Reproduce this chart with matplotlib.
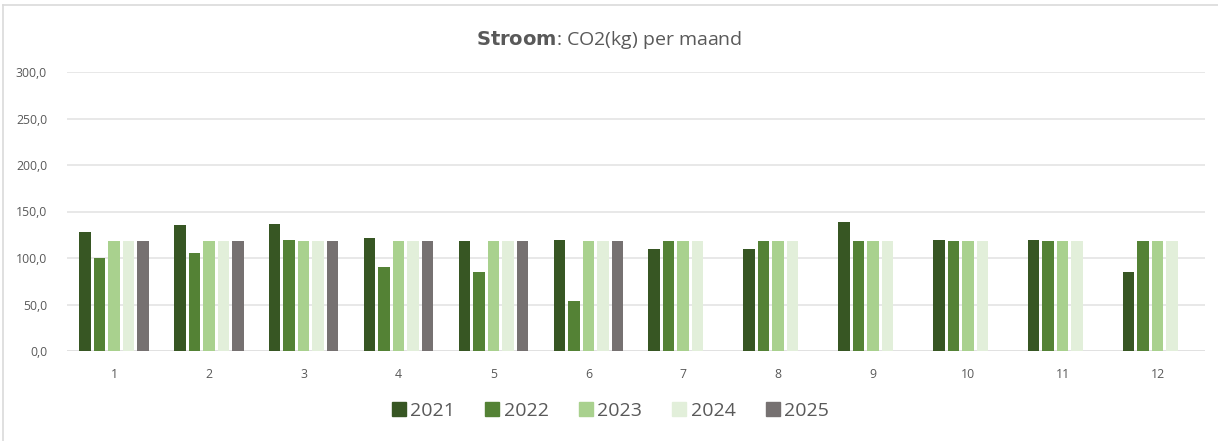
import matplotlib
matplotlib.use("Agg")
import matplotlib.pyplot as plt
import numpy as np
from matplotlib.lines import Line2D

months = [str(m) for m in range(1, 13)]
years = ["2021", "2022", "2023", "2024", "2025"]
v2021 = [128, 136, 137, 121, 118, 119, 110, 110, 139, 119, 119, 85]
v2022 = [100, 105, 119, 90, 85, 54, 118, 118, 118, 118, 118, 118]
v2023 = [118, 118, 118, 118, 118, 118, 118, 118, 118, 118, 118, 118]
v2024 = [118, 118, 118, 118, 118, 118, 118, 118, 118, 118, 118, 118]
v2025 = [118, 118, 118, 118, 118, 118, None, None, None, None, None, None]
series = [v2021, v2022, v2023, v2024, v2025]
colors = ["#375623", "#548235", "#A9D18E", "#E2EFDA", "#767171"]
yticks = [0, 50, 100, 150, 200, 250, 300]

txt = "#595959"
plt.rcParams['font.family'] = ['Open Sans', 'DejaVu Sans']

fig = plt.figure(figsize=(12.18, 4.41), dpi=100)
ax = fig.add_axes([66.5/1218, 1-351/441, (1205-66.5)/1218, (351-72)/441])

x = np.arange(len(months))
pitch = 0.153
width = 0.121
for i, (vals, c) in enumerate(zip(series, colors)):
    xs = [xi + (i - 2) * pitch for xi, v in zip(x, vals) if v is not None]
    hs = [v for v in vals if v is not None]
    ax.bar(xs, hs, width=width, color=c, zorder=3, linewidth=0)

ax.set_xlim(-0.5, len(months) - 0.5)
ax.set_ylim(0, 300)
ax.set_yticks(yticks)
ax.set_yticklabels([f"{t:.1f}".replace(".", ",") for t in yticks], fontsize=8.8, color=txt)
ax.set_xticks(x)
ax.set_xticklabels(months, fontsize=8.8, color=txt)
ax.tick_params(axis='both', length=0)
ax.tick_params(axis='y', pad=14)
ax.tick_params(axis='x', pad=12)
ax.grid(axis='y', color="#E4E4E4", linewidth=1.2, zorder=0)
for s in ax.spines.values():
    s.set_visible(False)
ax.axhline(0, color="#E0E0E0", linewidth=1.2, zorder=2)

fig.text(0.5, 1-40/441, r"$\bf{Stroom}$" + ": CO2(kg) per maand", ha='center', va='center',
         fontsize=14, color=txt)

handles = [Line2D([0], [0], marker='s', linestyle='none', markersize=10,
                  markerfacecolor=c, markeredgecolor=c) for c in colors]
fig.legend(handles, years, loc='center', bbox_to_anchor=(0.5, 1-411/441), ncol=5,
           frameon=False, fontsize=14, labelcolor=txt, handletextpad=0.1,
           columnspacing=1.4, handlelength=1.0)

fig.add_artist(Line2D([3/1218, 3/1218], [0, 1-5/441], color="#DADADA", linewidth=1.2,
                      transform=fig.transFigure))
fig.add_artist(Line2D([3/1218, 1], [1-5/441, 1-5/441], color="#DADADA", linewidth=1.2,
                      transform=fig.transFigure))

fig.savefig("out.png", dpi=100, facecolor="white")
